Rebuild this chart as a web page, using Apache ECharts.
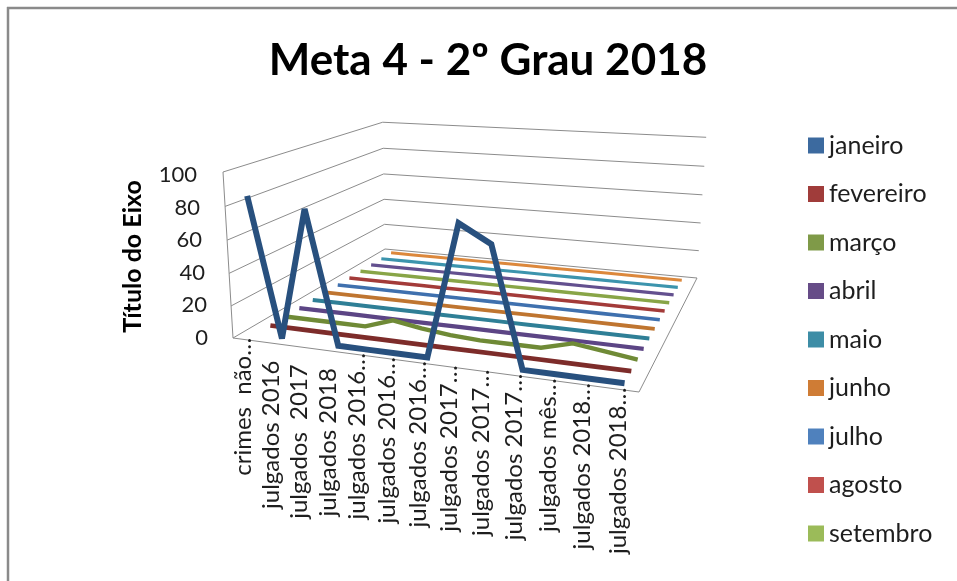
<!DOCTYPE html>
<html>
<head>
<meta charset="utf-8">
<title>Meta 4 - 2º Grau 2018</title>
<script src="https://cdn.jsdelivr.net/npm/echarts@6/dist/echarts.min.js"></script>
<style>
  html, body { margin: 0; padding: 0; background: #fff; }
  #chart { width: 957px; height: 581px; }
</style>
</head>
<body>
<div id="chart"></div>
<script>
// Categorias e meses
const categories = ["crimes  não…", "julgados 2016", "julgados  2017", "julgados 2018",
    "julgados 2016…", "julgados 2016…", "julgados 2016…",
    "julgados 2017…", "julgados 2017…", "julgados 2017…",
    "julgados mês…", "julgados 2018…", "julgados 2018…"];
const months = ["janeiro", "fevereiro", "março", "abril", "maio", "junho",
    "julho", "agosto", "setembro", "outubro", "novembro", "dezembro"];
const legendMonths = months.slice(0, 9);
const yTicks = [0, 20, 40, 60, 80, 100];

// Valores por mês
const janeiro = [85, 0, 80, 0, 0, 0, 0, 79, 69, 0, 0, 0, 0];
const fevereiro = [0, 0, 0, 0, 0, 0, 0, 0, 0, 0, 0, 0, 0];
const marco = [0, 0, 0, 0, 6, 3, 1, 0, 0, 0, 5, 2.5, 0];
const abril = [0, 0, 0, 0, 0, 0, 0, 0, 0, 0, 0, 0, 0];
const maio = [0, 0, 0, 0, 0, 0, 0, 0, 0, 0, 0, 0, 0];
const junho = [0, 0, 0, 0, 0, 0, 0, 0, 0, 0, 0, 0, 0];
const julho = [0, 0, 0, 0, 0, 0, 0, 0, 0, 0, 0, 0, 0];
const agosto = [0, 0, 0, 0, 0, 0, 0, 0, 0, 0, 0, 0, 0];
const setembro = [0, 0, 0, 0, 0, 0, 0, 0, 0, 0, 0, 0, 0];
const outubro = [0, 0, 0, 0, 0, 0, 0, 0, 0, 0, 0, 0, 0];
const novembro = [0, 0, 0, 0, 0, 0, 0, 0, 0, 0, 0, 0, 0];
const dezembro = [0, 0, 0, 0, 0, 0, 0, 0, 0, 0, 0, 0, 0];
const monthValues = [janeiro, fevereiro, marco, abril, maio, junho,
    julho, agosto, setembro, outubro, novembro, dezembro];

// Paleta
const lineColors = ["#28507E", "#7D2C2A", "#6F8A36", "#5C4585", "#2F7F96", "#BF7530",
    "#3F70AE", "#A33B39", "#88A547", "#63508F", "#3C94AD", "#DC883C"];
const legendColors = ["#3C6A9F", "#A03C3A", "#7F9A48", "#664C87", "#3D8DA6", "#CF7C35",
    "#4F81BD", "#C0504D", "#9BBB59", "#8064A2", "#4BACC6", "#F79646"];
const lineWidths = [6, 4.7, 4.4, 4.2, 4, 3.8, 3.6, 3.5, 3.4, 3.2, 3.1, 3];
const FONT = "Lato, 'Noto Sans', sans-serif";

// Perspectiva: cantos do piso (frente-esq, frente-dir, fundo-dir, fundo-esq)
const floor = [[233, 338], [639, 392], [697, 278], [385, 249]];
const frontLeftTop = [223, 172];
const vanish = [454, 4007]; // ponto de fuga das verticais

const dx1 = floor[1][0] - floor[2][0], dx2 = floor[3][0] - floor[2][0];
const dy1 = floor[1][1] - floor[2][1], dy2 = floor[3][1] - floor[2][1];
const sx = floor[0][0] - floor[1][0] + floor[2][0] - floor[3][0];
const sy = floor[0][1] - floor[1][1] + floor[2][1] - floor[3][1];
const det = dx1 * dy2 - dx2 * dy1;
const g = (sx * dy2 - dx2 * sy) / det;
const h = (dx1 * sy - sx * dy1) / det;
const zScale = (frontLeftTop[1] - floor[0][1]) / (vanish[1] - frontLeftTop[1]);

// u: largura, d: profundidade, z: altura (tudo 0..1)
function project(u, d, z) {
    const w = 1 + g * u + h * d;
    const x = floor[1][0] - floor[0][0] + g * floor[1][0];
    const y = floor[1][1] - floor[0][1] + g * floor[1][1];
    const xd = floor[3][0] - floor[0][0] + h * floor[3][0];
    const yd = floor[3][1] - floor[0][1] + h * floor[3][1];
    const px = x * u + xd * d + floor[0][0] + z * zScale * vanish[0];
    const py = y * u + yd * d + floor[0][1] + z * zScale * vanish[1];
    const pw = w + z * zScale;
    return [px / pw, py / pw];
}

// Passa um ponto da grade (eixos do echarts) para o espaço 3D
function gridToScene(params, api, i, v, d) {
    const cs = params.coordSys;
    const p = api.coord([i, v]);
    return project((p[0] - cs.x) / cs.width, d, (cs.y + cs.height - p[1]) / cs.height);
}

const monthSeries = months.map(function (name, s) {
    return {
        name: name,
        type: 'custom',
        coordinateSystem: 'cartesian2d',
        z: 30 - s,
        silent: true,
        itemStyle: { color: legendColors[s] },
        encode: { x: 0, y: 1 },
        data: monthValues[s].map(function (v, i) { return [i, v]; }),
        renderItem: function (params, api) {
            if (params.dataIndex !== 0) return null;
            const depth = (s + 0.5) / months.length;
            return {
                type: 'polyline',
                shape: { points: monthValues[s].map(function (v, i) { return gridToScene(params, api, i, v, depth); }) },
                style: { fill: null, stroke: lineColors[s], lineWidth: lineWidths[s], lineJoin: 'miter', miterLimit: 2, lineCap: 'butt' }
            };
        }
    };
});

// Paredes e piso
const wallSeries = {
    type: 'custom',
    coordinateSystem: 'cartesian2d',
    z: 5,
    silent: true,
    encode: { x: 0, y: 1 },
    data: yTicks.map(function (t) { return [0, t]; }),
    renderItem: function (params, api) {
        const z = api.value(1) / 100;
        const pts = [project(0, 0, z), project(0, 1, z), project(1, 1, z)];
        const stroke = { stroke: '#8C8C8C', lineWidth: 1, fill: null };
        const children = [{ type: 'polyline', shape: { points: pts }, style: stroke }];
        if (params.dataIndex === 0) {
            children.push({
                type: 'polyline',
                shape: { points: [project(1, 1, 0), project(1, 0, 0), project(0, 0, 0), project(0, 0, 1)] },
                style: stroke
            });
        }
        return { type: 'group', children: children };
    }
};

// Rótulos das categorias, girados
const labelSeries = {
    type: 'custom',
    coordinateSystem: 'cartesian2d',
    z: 40,
    silent: true,
    encode: { x: 0, y: 1 },
    data: categories.map(function (c, i) { return [i, 0]; }),
    renderItem: function (params, api) {
        const text = categories[params.dataIndex];
        const p = gridToScene(params, api, params.dataIndex, 0, 0);
        const gap = text.endsWith('…') ? -2 : 17;
        return {
            type: 'text',
            x: p[0] - 3,
            y: p[1] + gap,
            rotation: Math.PI / 2,
            style: { text: text, align: 'right', verticalAlign: 'middle', fill: '#1E1E1E', font: '24px ' + FONT }
        };
    }
};

var chart = echarts.init(document.getElementById('chart'));
chart.setOption({
    animation: false,
    backgroundColor: '#fff',
    title: {
        text: 'Meta 4 - 2º Grau 2018',
        left: 483,
        top: 34,
        textAlign: 'center',
        textStyle: { fontFamily: FONT, fontWeight: 'bold', fontSize: 44, color: '#000' }
    },
    legend: {
        orient: 'vertical',
        left: 803,
        top: 128,
        data: legendMonths,
        icon: 'rect',
        itemWidth: 16,
        itemHeight: 16,
        itemGap: 23.5,
        selectedMode: false,
        textStyle: { fontFamily: FONT, fontSize: 25, lineHeight: 16, color: '#1E1E1E' }
    },
    grid: { left: 208, top: 175, width: 430, height: 163, containLabel: false },
    xAxis: { type: 'category', data: categories, show: false },
    yAxis: {
        type: 'value',
        min: 0,
        max: 100,
        interval: 20,
        name: 'Título do Eixo',
        nameLocation: 'middle',
        nameRotate: 90,
        nameGap: 63,
        nameTextStyle: { fontFamily: FONT, fontWeight: 'bold', fontSize: 25, color: '#000' },
        axisLine: { show: false },
        axisTick: { show: false },
        splitLine: { show: false },
        axisLabel: {
            margin: 0,
            color: '#1E1E1E',
            fontFamily: FONT,
            fontSize: 22,
            formatter: function (v) { return '{t' + v + '|' + v + '}'; },
            rich: {
                t0: { padding: [0, 0, 0, 0] },
                t20: { padding: [0, 1, 0, 0] },
                t40: { padding: [0, 3, 0, 0] },
                t60: { padding: [0, 6, 0, 0] },
                t80: { padding: [0, 8, 0, 0] },
                t100: { padding: [0, 11, 0, 0] }
            }
        }
    },
    graphic: [
        { type: 'line', shape: { x1: 7, y1: 8, x2: 957, y2: 8 }, style: { stroke: '#8A8A8A', lineWidth: 2.5 } },
        { type: 'line', shape: { x1: 8, y1: 7, x2: 8, y2: 581 }, style: { stroke: '#8A8A8A', lineWidth: 2.5 } }
    ],
    series: [wallSeries].concat(monthSeries, [labelSeries])
});

window.addEventListener('resize', function () { chart.resize(); });
</script>
</body>
</html>
